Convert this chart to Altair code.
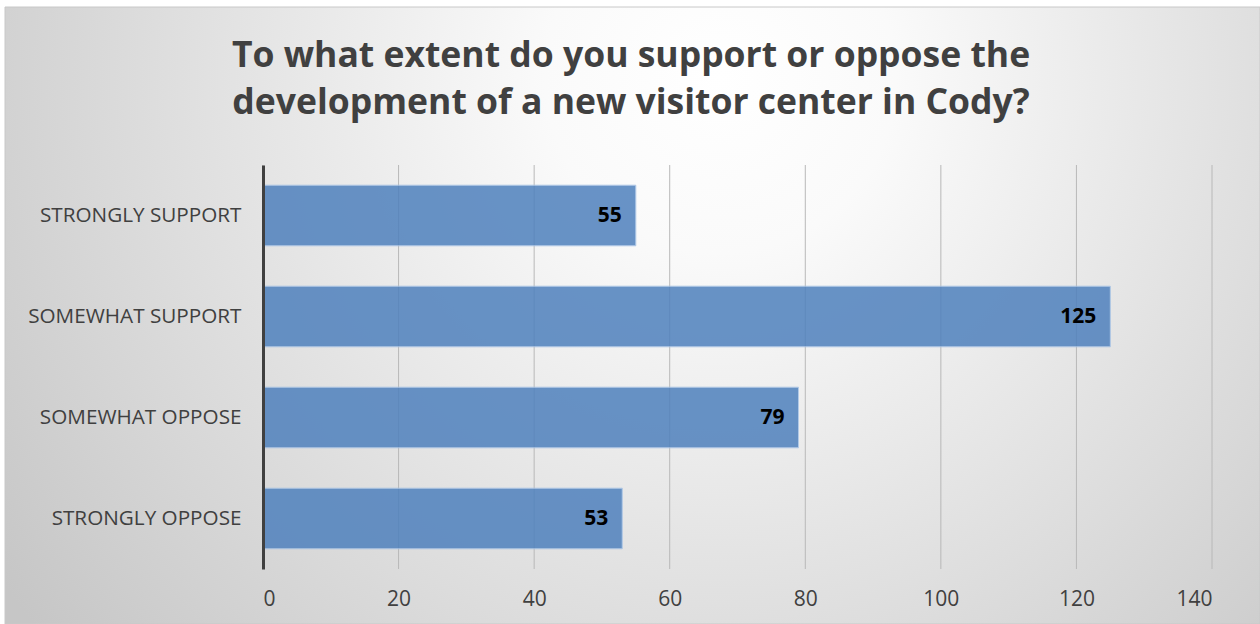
import altair as alt
import pandas as pd

categories = ["STRONGLY SUPPORT", "SOMEWHAT SUPPORT", "SOMEWHAT OPPOSE", "STRONGLY OPPOSE"]
counts = [55, 125, 79, 53]
x_ticks = [0, 20, 40, 60, 80, 100, 120, 140]
title_lines = ["To what extent do you support or oppose the",
               "development of a new visitor center in Cody?"]

df = pd.DataFrame({"response": categories, "count": counts})
ticks_df = pd.DataFrame({"tick": x_ticks})

FONT = "Open Sans"
W, H = 949, 404
PL, PT, PR, PB = 263, 165, 48, 55

bg_grad = alt.RadialGradient(
    gradient="radial",
    stops=[alt.GradientStop(offset=0, color="#ffffff"),
           alt.GradientStop(offset=0.2, color="#fafafa"),
           alt.GradientStop(offset=1, color="#c6c6c6")],
    x1=0.57, y1=0.31, x2=0.57, y2=0.31, r1=0, r2=0.7,
)

background = alt.Chart(alt.Data(values=[{}])).mark_rect(
    fill=bg_grad, stroke="#c8c8c8", strokeWidth=1
).encode(
    x=alt.value(-PL + 5), x2=alt.value(W + PR),
    y=alt.value(-PT + 7), y2=alt.value(H + PB),
)

x_scale = alt.Scale(domain=[0, 140], nice=False)
x_axis = alt.Axis(title=None, values=x_ticks,
                  labelFont=FONT, labelFontSize=21, labelColor="#404040",
                  labelPadding=19, ticks=False, domain=False,
                  grid=False, zindex=1)

grid = alt.Chart(ticks_df).mark_rule(color="#b8b8b8", strokeWidth=1).encode(
    x=alt.X("tick:Q", scale=x_scale, axis=x_axis),
)

y_enc = alt.Y("response:N", sort=categories,
              scale=alt.Scale(paddingInner=0.4, paddingOuter=0.2),
              axis=alt.Axis(title=None, labelFont=FONT, labelFontSize=20.7,
                            labelColor="#404040", labelPadding=22, labelLimit=400,
                            ticks=False, domain=True, domainColor="#404040",
                            domainWidth=3, grid=False, zindex=1))
x_enc = alt.X("count:Q", scale=x_scale, axis=x_axis)

bars = alt.Chart(df).mark_bar(
    color="#4f81bd", opacity=0.85, stroke="#a8c4e6", strokeWidth=1, strokeOpacity=1
).encode(x=x_enc, y=y_enc)

labels = alt.Chart(df).mark_text(
    align="right", baseline="middle", dx=-14, font=FONT, fontSize=21,
    fontWeight="bold", color="#000000"
).encode(x="count:Q", y=alt.Y("response:N", sort=categories), text="count:Q")

title = alt.Chart(alt.Data(values=[{}])).mark_text(
    align="center", baseline="alphabetic", font=FONT, fontSize=35.5,
    fontWeight="bold", color="#404040", lineHeight=47
).encode(x=alt.value(631 - PL), y=alt.value(67 - PT), text=alt.value(title_lines))

chart = alt.layer(background, grid, bars, labels, title).properties(
    width=W, height=H,
    autosize=alt.AutoSizeParams(type="none"),
    padding={"left": PL, "top": PT, "right": PR, "bottom": PB},
).configure(background="#ffffff").configure_view(stroke=None)

chart.save("out.html", embed_options={"renderer": "svg", "actions": False})
